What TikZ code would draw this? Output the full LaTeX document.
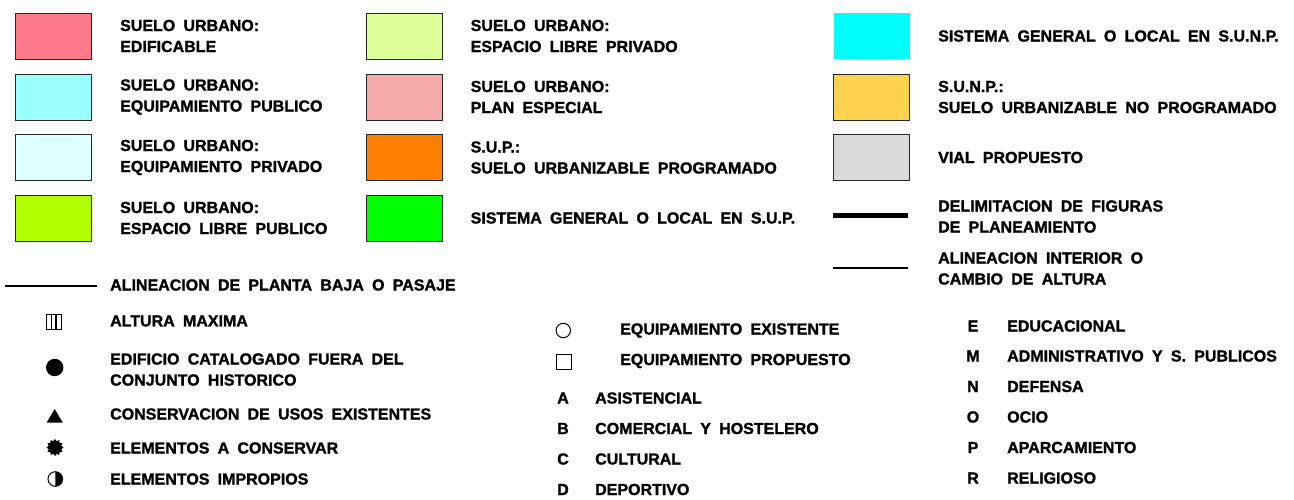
\documentclass[tikz,border=0pt]{standalone}
\usepackage{fontspec}
\setmainfont{Liberation Sans}[WordSpace=1.85, BoldFeatures={FakeBold=1.3}]
\usetikzlibrary{positioning}
\usetikzlibrary{shapes.geometric}

\definecolor{edifcol}{RGB}{255,123,140}
\definecolor{eqpubcol}{RGB}{153,255,255}
\definecolor{eqprivcol}{RGB}{221,255,255}
\definecolor{libpubcol}{RGB}{178,255,0}
\definecolor{libprivcol}{RGB}{221,255,153}
\definecolor{plancol}{RGB}{245,170,170}
\definecolor{supcol}{RGB}{255,127,0}
\definecolor{sgsupcol}{RGB}{0,255,0}
\definecolor{sgsunpcol}{RGB}{0,255,255}
\definecolor{sunpcol}{RGB}{255,210,77}
\definecolor{vialcol}{RGB}{217,217,217}

\begin{document}
\begin{tikzpicture}
[x=1pt,y=-1pt,
swatch/.style ={rectangle, draw=black!85, line width=1pt,
minimum width=76pt, minimum height=46pt, inner sep=0pt},
legtext/.style={anchor=west, inner sep=0pt, align=left,
font=\bfseries\fontsize{16}{21}\selectfont},
code/.style ={inner sep=0pt, font=\bfseries\fontsize{16}{21}\selectfont},
rayathick/.style={line width=5pt},
rayathin/.style ={line width=2pt}]
\path[fill=white, use as bounding box] (0,0) rectangle (1294,499);

% column 1 swatches
\node [swatch, fill=edifcol]    (edif)   at (53.5,36)  {};
\node [swatch, fill=eqpubcol]   (eqpub)  at (53.5,97)  {};
\node [swatch, fill=eqprivcol]  (eqpriv) at (53.5,157.5) {};
\node [swatch, fill=libpubcol]  (libpub) at (53.5,218) {};
% column 2 swatches
\node [swatch, fill=libprivcol] (libpriv) at (404,36)  {};
\node [swatch, fill=plancol]    (plan)    at (404,97)  {};
\node [swatch, fill=supcol]     (sup)     at (404,157.5) {};
\node [swatch, fill=sgsupcol]   (sgsup)   at (404,218) {};
% column 3 swatches
\node [swatch, fill=sgsunpcol, draw=none] (sgsunp) at (871.5,36) {};
\node [swatch, fill=sunpcol]    (sunp)    at (871.5,97)  {};
\node [swatch, fill=vialcol]    (vial)    at (871.5,157.5) {};

% texts next to the swatches
\node [legtext, right=28pt of edif]    (tedif)    {SUELO URBANO:\\EDIFICABLE};
\node [legtext, right=28pt of eqpub]   (teqpub)   {SUELO URBANO:\\EQUIPAMIENTO PUBLICO};
\node [legtext, right=28pt of eqpriv]  (teqpriv)  {SUELO URBANO:\\EQUIPAMIENTO PRIVADO};
\node [legtext, right=28pt of libpub]  (tlibpub)  {SUELO URBANO:\\ESPACIO LIBRE PUBLICO};
\node [legtext, right=28pt of libpriv] (tlibpriv) {SUELO URBANO:\\ESPACIO LIBRE PRIVADO};
\node [legtext, right=28pt of plan]    (tplan)    {SUELO URBANO:\\PLAN ESPECIAL};
\node [legtext, right=28pt of sup]     (tsup)     {S.U.P.:\\SUELO URBANIZABLE PROGRAMADO};
\node [legtext, right=28pt of sgsup]   (tsgsup)   {SISTEMA GENERAL O LOCAL EN S.U.P.};
\node [legtext, right=28pt of sgsunp]  (tsgsunp)  {SISTEMA GENERAL O LOCAL EN S.U.N.P.};
\node [legtext, right=28pt of sunp]    (tsunp)    {S.U.N.P.:\\SUELO URBANIZABLE NO PROGRAMADO};
\node [legtext, right=28pt of vial]    (tvial)    {VIAL PROPUESTO};

% lines
\coordinate (delimA) at (833,215);
\coordinate (delimB) at (908,215);
\draw [rayathick] (delimA) -- (delimB);
\node [legtext] (tdelim) at (938,216.5) {DELIMITACION DE FIGURAS\\DE PLANEAMIENTO};
\coordinate (intA) at (833,268);
\coordinate (intB) at (908,268);
\draw [rayathin] (intA) -- (intB);
\node [legtext] (tint) at (938,268.5) {ALINEACION INTERIOR O\\CAMBIO DE ALTURA};
\coordinate (pbA) at (5,286);
\coordinate (pbB) at (97,286);
\draw [rayathin] (pbA) -- (pbB);
\node [legtext] (tpb) at (110,285) {ALINEACION DE PLANTA BAJA O PASAJE};

% symbols, left
\draw [line width=1pt] (46.5,314.5) rectangle (61.5,329);
\draw [line width=1.6pt] (51.5,314.5) -- (51.5,329) (56,314.5) -- (56,329);
\node [legtext] (taltura) at (110,321) {ALTURA MAXIMA};
\fill (54.7,367.5) circle (8.7pt);
\node [legtext] (tcatal) at (110,369.5) {EDIFICIO CATALOGADO FUERA DEL\\CONJUNTO HISTORICO};
\fill (54.7,409) -- (62.7,422.5) -- (46.7,422.5) -- cycle;
\node [legtext] (tusos) at (110,414) {CONSERVACION DE USOS EXISTENTES};
\node [star, star points=12, star point ratio=1.3, fill, inner sep=0pt,
minimum size=17pt] (gear) at (55,447.5) {};
\node [legtext] (tconserv) at (110,448) {ELEMENTOS A CONSERVAR};
\draw [line width=1pt] (55.3,479) circle (7.3pt);
\fill (55.3,471.7) arc [start angle=90, end angle=-90, radius=7.3pt] -- cycle;
\node [legtext] (timprop) at (110,479) {ELEMENTOS IMPROPIOS};

% symbols, middle
\draw [line width=1pt] (563.3,330.5) circle (7.2pt);
\node [legtext] (texist) at (620,330.5) {EQUIPAMIENTO EXISTENTE};
\draw [line width=1pt] (556.7,354.5) rectangle (571,369);
\node [legtext] (tprop) at (620,361) {EQUIPAMIENTO PROPUESTO};
\node [code] (cA) at (563,398) {A};
\node [legtext] (tA) at (595,398) {ASISTENCIAL};
\node [code] (cB) at (563,428.5) {B};
\node [legtext] (tB) at (595,428.5) {COMERCIAL Y HOSTELERO};
\node [code] (cC) at (563,459) {C};
\node [legtext] (tC) at (595,459) {CULTURAL};
\node [code] (cD) at (563,489.5) {D};
\node [legtext] (tD) at (595,489.5) {DEPORTIVO};

% symbols, right
\node [code] (cE) at (973,326) {E};
\node [legtext] (tE) at (1007,326) {EDUCACIONAL};
\node [code] (cM) at (973,356) {M};
\node [legtext] (tM) at (1007,356) {ADMINISTRATIVO Y S. PUBLICOS};
\node [code] (cN) at (973,386.5) {N};
\node [legtext] (tN) at (1007,386.5) {DEFENSA};
\node [code] (cO) at (973,417) {O};
\node [legtext] (tO) at (1007,417) {OCIO};
\node [code] (cP) at (973,447.5) {P};
\node [legtext] (tP) at (1007,447.5) {APARCAMIENTO};
\node [code] (cR) at (973,478) {R};
\node [legtext] (tR) at (1007,478) {RELIGIOSO};
\end{tikzpicture}
\end{document}
